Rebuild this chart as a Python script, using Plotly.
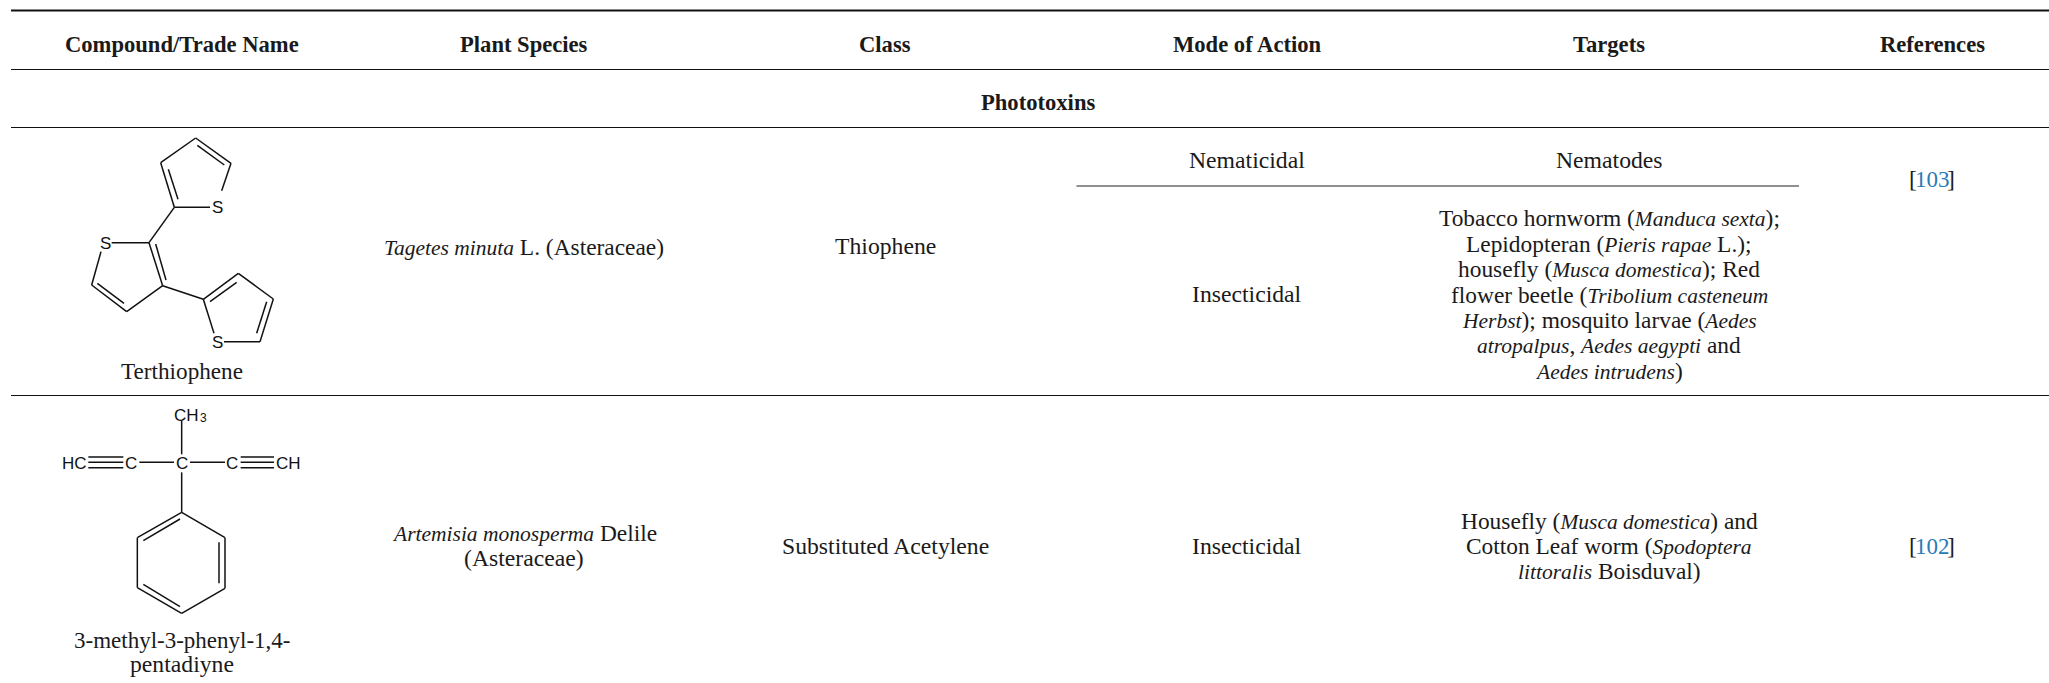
import plotly.graph_objects as go

W, H = 2049, 683
SERIF = "Liberation Serif"
SANS = "Liberation Sans"
INK = "#1a1a1a"
LINK = "#2a7ab8"
BODY = 23.7
MIXED = 23.4
BOLD = 22.6
ITALIC = 21.5


def it(s):
    return f'<span style="font-size:{ITALIC}px"><i>{s}</i></span>'


# ---- table content -------------------------------------------------
headers = ["Compound/Trade Name", "Plant Species", "Class", "Mode of Action", "Targets", "References"]
header_x = [182, 524, 885, 1247, 1609, 1932]
section_title = "Phototoxins"

row1_cells = [
    ("Terthiophene", 182, 371, 23.2),
    (it("Tagetes minuta") + " L. (Asteraceae)", 524, 247, MIXED),
    ("Thiophene", 885, 246, BODY),
    ("Nematicidal", 1247, 160, BODY),
    ("Nematodes", 1609, 160, BODY),
    ("Insecticidal", 1247, 294, BODY),
]
row1_targets = [
    "Tobacco hornworm (" + it("Manduca sexta") + ");",
    "Lepidopteran (" + it("Pieris rapae") + " L.);",
    "housefly (" + it("Musca domestica") + "); Red",
    "flower beetle (" + it("Tribolium casteneum"),
    it("Herbst") + "); mosquito larvae (" + it("Aedes"),
    it("atropalpus") + ", " + it("Aedes aegypti") + " and",
    it("Aedes intrudens") + ")",
]
row1_target_y = [218, 243.5, 269, 294.5, 320, 345, 370.5]

row2_cells = [
    ("3-methyl-3-phenyl-1,4-", 182, 640, 23),
    ("pentadiyne", 182, 664, BODY),
    (it("Artemisia monosperma") + " Delile", 524, 533, MIXED),
    ("(Asteraceae)", 524, 558, BODY),
    ("Substituted Acetylene", 885, 546, BODY),
    ("Insecticidal", 1247, 546, BODY),
    ("Housefly (" + it("Musca domestica") + ") and", 1609, 521, MIXED),
    ("Cotton Leaf worm (" + it("Spodoptera"), 1609, 546, MIXED),
    (it("littoralis") + " Boisduval)", 1609, 571, MIXED),
]
ref_labels = ["103", "102"]
ref_y = [179, 546]

rule_y = [10.5, 69.5, 127.5, 395.5]
rule_w = [2.2, 1.2, 1.2, 1.2]
rule_x0 = 11
sub_rule = (1076.5, 1799, 186)

# ---- structure 1: terthiophene (bonds) ------------------------------
thio_origin = (40, 120)
thio_bonds = [
    (403, 262, 510, 262), (545, 212, 573, 130), (573, 130, 467, 54), (553, 135, 472, 76),
    (467, 54, 362, 128), (362, 128, 403, 262), (385, 148, 414, 238),
    (403, 262, 327, 368),
    (215, 368, 327, 368), (327, 368, 368, 497), (347, 372, 378, 480),
    (368, 497, 260, 575), (260, 575, 155, 495), (252, 550, 172, 490), (155, 495, 183, 395),
    (368, 497, 490, 538),
    (490, 538, 595, 460), (510, 545, 590, 487), (595, 460, 700, 537),
    (700, 537, 660, 665), (680, 545, 650, 640), (660, 665, 552, 665), (490, 538, 522, 640),
]
thio_atoms = [("S", 533, 263, 17), ("S", 197, 371, 17), ("S", 533, 667, 17)]

# ---- structure 2: 3-methyl-3-phenyl-1,4-pentadiyne ------------------
yne_origin = (40, 395)
yne_bonds = [
    (425, 78, 425, 178), (425, 232, 425, 352),
    (145, 186, 250, 186), (145, 202, 250, 202), (145, 218, 250, 218),
    (298, 202, 402, 202), (450, 202, 555, 202),
    (602, 186, 702, 186), (602, 202, 702, 202), (602, 218, 702, 218),
    (425, 352, 555, 428), (555, 428, 555, 580), (555, 580, 425, 655),
    (425, 655, 292, 578), (292, 578, 292, 428), (292, 428, 425, 352),
    (310, 437, 420, 372), (537, 442, 537, 565), (310, 568, 420, 635),
]
yne_atoms = [("CH", 438, 60, 17), ("3", 490, 69, 12), ("HC", 103, 205.5, 17), ("C", 272, 205.5, 17),
             ("C", 425, 205.5, 17), ("C", 575, 205.5, 17), ("CH", 745, 205.5, 17)]


def bond_xy(bonds, origin):
    xs, ys = [], []
    for x0, y0, x1, y1 in bonds:
        xs += [origin[0] + x0 / 3, origin[0] + x1 / 3, None]
        ys += [origin[1] + y0 / 3, origin[1] + y1 / 3, None]
    return xs, ys


fig = go.Figure()
for bonds, origin in [(thio_bonds, thio_origin), (yne_bonds, yne_origin)]:
    xs, ys = bond_xy(bonds, origin)
    fig.add_trace(go.Scatter(x=xs, y=ys, mode="lines", hoverinfo="skip", showlegend=False,
                             line=dict(color="#111111", width=1.5)))

ann = []


def text(s, x, y, size=BODY, family=SERIF, color=INK, anchor="center"):
    ann.append(dict(text=s, x=x, y=y, xref="x", yref="y", showarrow=False, xanchor=anchor,
                    yanchor="middle", align="center", font=dict(family=family, size=size, color=color)))


for h, x in zip(headers, header_x):
    text(f"<b>{h}</b>", x, 44, size=BOLD)
text(f"<b>{section_title}</b>", 1038, 102, size=BOLD)
for s, x, y, size in row1_cells + row2_cells:
    text(s, x, y, size=size)
for s, y in zip(row1_targets, row1_target_y):
    text(s, 1609, y, size=MIXED)
for r, y in zip(ref_labels, ref_y):
    text(r, 1932, y, size=BODY - 0.7, color=LINK)
    text("[", 1919, y, anchor="right")
    text("]", 1945, y, anchor="left")
for s, x, y, size in thio_atoms:
    text(s, thio_origin[0] + x / 3, thio_origin[1] + y / 3, size=size, family=SANS, color="#111111")
for s, x, y, size in yne_atoms:
    text(s, yne_origin[0] + x / 3, yne_origin[1] + y / 3, size=size, family=SANS, color="#111111")

shapes = [dict(type="line", x0=rule_x0, x1=W, y0=y, y1=y, xref="x", yref="y",
               line=dict(color="#111111", width=w)) for y, w in zip(rule_y, rule_w)]
shapes.append(dict(type="line", x0=sub_rule[0], x1=sub_rule[1], y0=sub_rule[2], y1=sub_rule[2],
                   xref="x", yref="y", line=dict(color="#222222", width=1.2)))

fig.update_layout(
    width=W, height=H, margin=dict(l=0, r=0, t=0, b=0),
    paper_bgcolor="white", plot_bgcolor="white",
    xaxis=dict(visible=False, range=[0, W], fixedrange=True),
    yaxis=dict(visible=False, range=[H, 0], fixedrange=True),
    annotations=ann, shapes=shapes, showlegend=False,
)
fig.write_html("out.html", config={"displayModeBar": False},
               post_script="document.body.style.margin='0';document.body.style.overflow='hidden';")
